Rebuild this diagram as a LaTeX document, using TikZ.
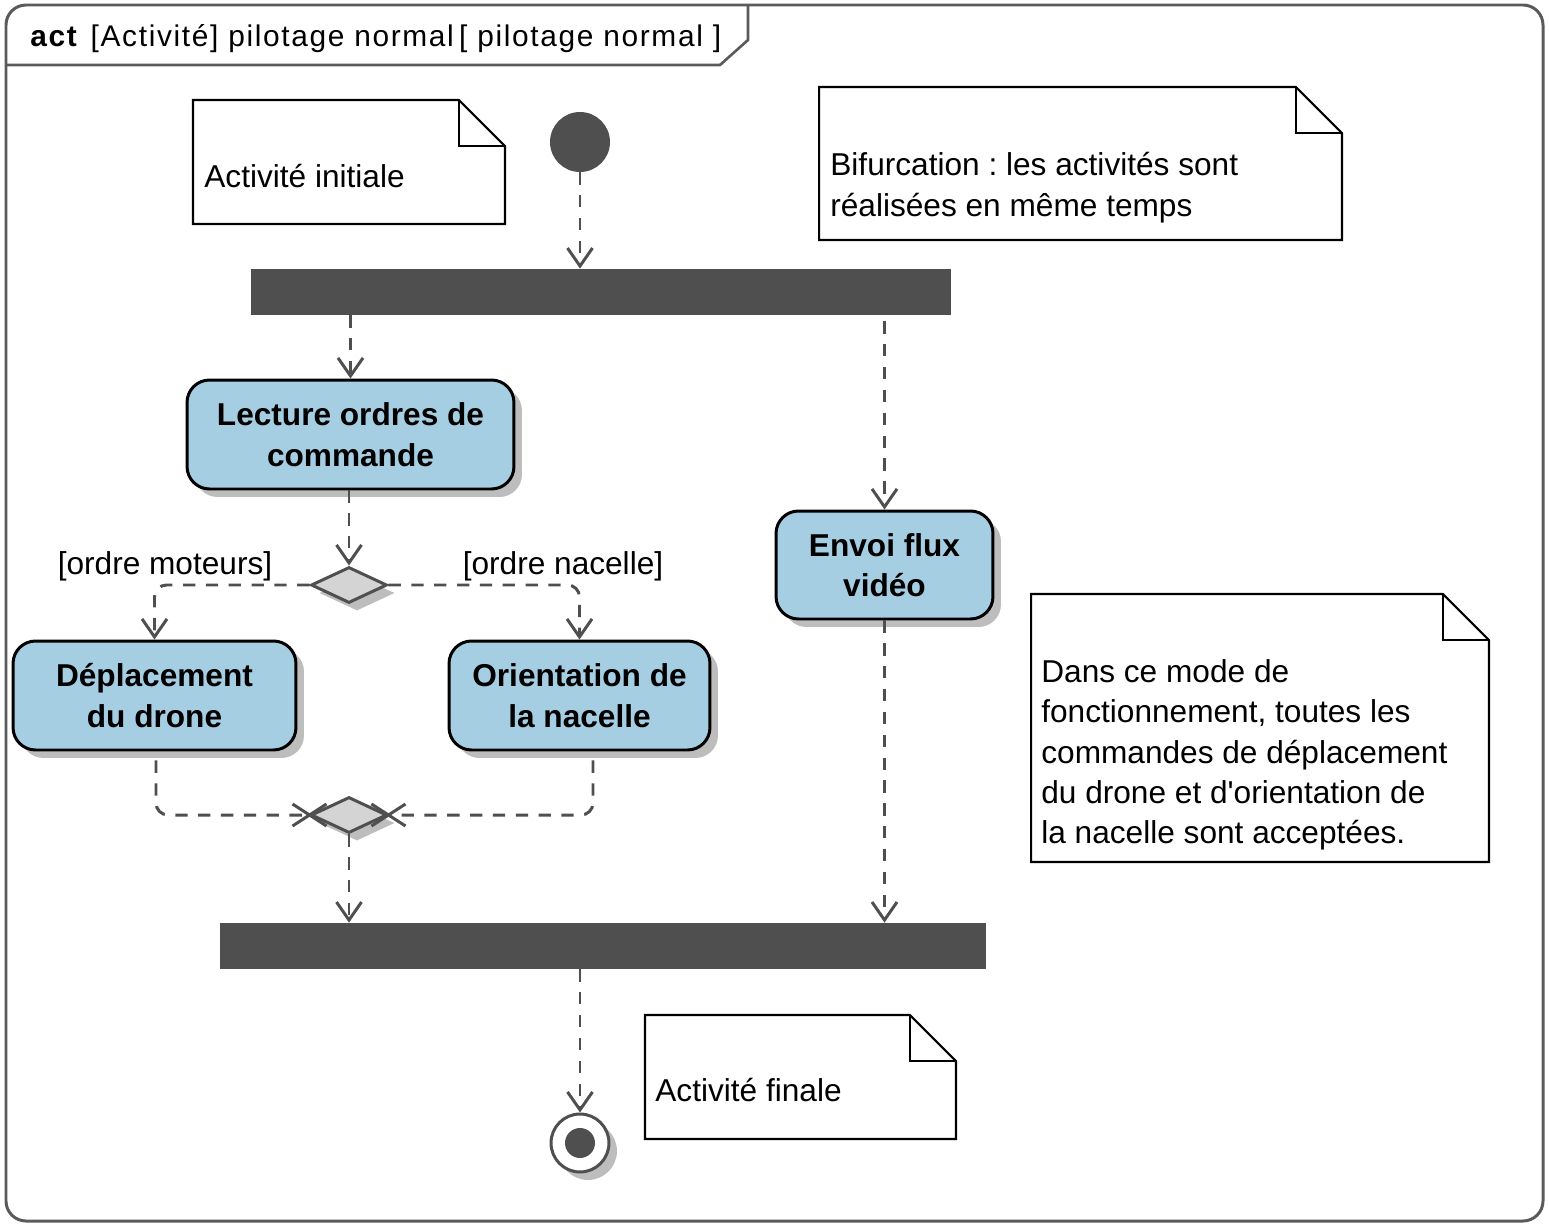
\documentclass[tikz,border=0pt]{standalone}
\usepackage{fontspec}
\setmainfont{Liberation Sans}
\usetikzlibrary{arrows.meta,positioning,calc,shapes.geometric,shadows}

\definecolor{umldark}{HTML}{4F4F4F}
\definecolor{umlblue}{HTML}{A6CEE3}
\definecolor{umlshadow}{HTML}{BDBDBD}
\definecolor{umldiamond}{HTML}{D4D4D4}
\definecolor{umlframe}{HTML}{5A5A5A}

\begin{document}
\frenchspacing
\begin{tikzpicture}[
  x=0.02cm, y=-0.02cm,
  font=\fontsize{18}{23}\selectfont,
  umlshade/.style={drop shadow={shadow xshift=0.16cm, shadow yshift=-0.16cm, fill=umlshadow, opacity=1}},
  action/.style={draw=black, line width=1.7pt, fill=umlblue, rounded corners=0.45cm, align=center,
    font=\fontsize{18}{23}\selectfont\bfseries, minimum height=2.18cm, umlshade},
  bar/.style={fill=umldark, draw=none, minimum height=0.92cm, inner sep=0pt},
  branch/.style={diamond, draw=umldark, fill=umldiamond, line width=1.7pt, inner sep=0pt,
    minimum width=1.52cm, minimum height=0.72cm, umlshade},
  flow/.style={draw=umldark, line width=1.7pt, dash pattern=on 7pt off 6pt,
    -{Straight Barb[length=0.36cm, width=0.5cm]}},
  plain flow/.style={draw=umldark, line width=1.7pt, dash pattern=on 7pt off 6pt},
  notebox/.style={draw=none, inner sep=0pt, outer sep=0pt},
  noteline/.style={draw=black, line width=1.2pt, line join=miter},
  notetext/.style={inner sep=0pt, align=left},
  guard/.style={inner sep=0pt}
]
\useasboundingbox (0,0) rectangle (1549,1227);

% frame
\draw[umlframe, line width=1.7pt, rounded corners=0.4cm] (6,5) rectangle (1543,1221);
\draw[umlframe, line width=1.5pt] (6,65) -- (720,65) -- (748,40) -- (748,5);
\node[anchor=base west, inner sep=0pt, font=\fontsize{17}{20}\selectfont\addfontfeatures{LetterSpace=5.5}] (title) at (30,47)
  {\textbf{act}\hspace{7pt}[Activité] pilotage normal\hspace{3pt}[ pilotage normal ]};

% nodes
\node[circle, fill=umldark, minimum size=1.2cm, inner sep=0pt] (init) at (580,142) {};
\node[bar, minimum width=14cm] (fork) at (601,292) {};
\node[action, minimum width=6.54cm] (lecture) at (350.5,434.5) {Lecture ordres de\\commande};
\node[action, minimum width=4.34cm, minimum height=2.16cm] (envoi) at (884.5,565) {Envoi flux\\vidéo};
\node[branch] (decision) at (349,585) {};
\node[action, minimum width=5.66cm] (deplacement) at (154.5,695.5) {Déplacement\\du drone};
\node[action, minimum width=5.22cm] (orientation) at (579.5,695.5) {Orientation de\\la nacelle};
\node[branch] (merge) at (349,815) {};
\node[bar, minimum width=15.32cm] (join) at (603,946) {};
\node[circle, draw=umldark, fill=white, line width=1.7pt, minimum size=1.16cm, inner sep=0pt, umlshade] (final) at (580,1143) {};
\fill[umldark] (final.center) circle (0.3cm);

% guards
\node[guard] (gMoteurs) at (165,566) {[ordre moteurs]};
\node[guard] (gNacelle) at (563,566) {[ordre nacelle]};

% notes
\node[notebox, minimum width=6.24cm, minimum height=2.48cm] (noteA) at (349,162) {};
\node[notebox, minimum width=10.46cm, minimum height=3.06cm] (noteB) at (1080.5,163.5) {};
\node[notebox, minimum width=6.22cm, minimum height=2.48cm] (noteC) at (800.5,1077) {};
\node[notebox, minimum width=9.16cm, minimum height=5.36cm] (noteD) at (1260,728) {};
\foreach \n in {noteA,noteB,noteC,noteD}{
  \draw[noteline] (\n.north west) -- ($(\n.north east)+(-46,0)$) -- ($(\n.north east)+(0,46)$)
    -- (\n.south east) -- (\n.south west) -- cycle;
  \draw[noteline] ($(\n.north east)+(-46,0)$) |- ($(\n.north east)+(0,46)$);
}
\node[notetext, anchor=west] (noteAtext) at (204,176) {Activité initiale};
\node[notetext, anchor=north west] (noteBtext) at (830,152)
  {Bifurcation : les activités sont\\réalisées en même temps};
\node[notetext, anchor=west] (noteCtext) at (655,1090) {Activité finale};
\node[notetext, anchor=north west] (noteDtext) at (1041,659)
  {Dans ce mode de\\fonctionnement, toutes les\\commandes de déplacement\\du drone et d\textquotesingle orientation de\\la nacelle sont acceptées.};

% flows
\draw[flow] (init) -- (init |- fork.north);
\draw[flow] (fork.south -| lecture) -- (lecture.north);
\draw[flow] ($(fork.south -| envoi)+(0,6)$) -- (envoi.north);
\draw[flow] (lecture.south -| decision) -- (decision.north);
\draw[flow, rounded corners=0.24cm] (decision.west) -| (deplacement.north);
\draw[flow, rounded corners=0.24cm] (decision.east) -| (orientation.north);
\draw[plain flow, rounded corners=0.24cm] ($(deplacement.south)+(1.5,9)$) |- (merge.west);
\draw[plain flow, rounded corners=0.24cm] ($(orientation.south)+(13.5,9)$) |- (merge.east);
\foreach \a in {west,east}{
  \draw[umldark, line width=1.7pt] ($(merge.\a)+(-17,-11)$) -- ($(merge.\a)+(17,11)$);
  \draw[umldark, line width=1.7pt] ($(merge.\a)+(-17,11)$) -- ($(merge.\a)+(17,-11)$);
}
\draw[flow] (merge.south) -- (merge |- join.north);
\draw[flow] (envoi.south) -- (envoi |- join.north);
\draw[flow] (join.south -| final) -- (final.north);
\end{tikzpicture}
\end{document}
